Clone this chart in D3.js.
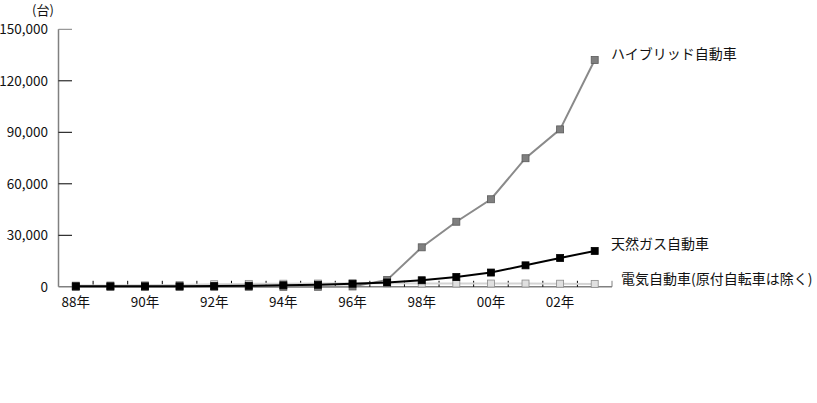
<!DOCTYPE html>
<html>
<head>
<meta charset="utf-8">
<script src="https://cdn.jsdelivr.net/npm/d3@7"></script>
<style>
  body { margin: 0; background: #fff; }
  svg { display: block; font-family: "Noto Sans CJK JP", sans-serif; }
</style>
</head>
<body>
<svg width="817" height="403"></svg>
<script>
// data
var years = ["88","89","90","91","92","93","94","95","96","97","98","99","00","01","02","03"];
var hybrid = [0,0,0,0,0,0,0,0,200,4000,23000,37900,51000,74900,91700,132100];
var natgas = [300,300,300,300,400,600,900,1200,1800,2500,3800,5700,8300,12500,16800,20900];
var electric = [700,800,900,1000,1500,1700,1800,1900,2000,2000,1900,1900,1900,1900,1800,1700];
var yTicks = [0,30000,60000,90000,120000,150000];
var xLabelYears = ["88","90","92","94","96","98","00","02"];
var unitLabel = "(台)";
var names = ["ハイブリッド自動車", "天然ガス自動車", "電気自動車(原付自転車は除く)"];

var svg = d3.select("svg");

var x = d3.scaleBand().domain(years).range([58.5, 612]).padding(0);
var y = d3.scaleLinear().domain([0, 150000]).range([286.8, 29.3]);
var cx = function (d, i) { return x(years[i]) + x.bandwidth() / 2; };

// y axis
svg.append("line")
	.attr("x1", 58.5).attr("x2", 58.5)
	.attr("y1", y(150000)).attr("y2", y(0))
	.style("stroke", "#808080").style("stroke-width", 1.5);

svg.append("g").selectAll("line")
	.data(yTicks.filter(function (d) { return d > 0; }))
	.enter().append("line")
	.attr("x1", 58.5).attr("x2", 72)
	.attr("y1", function (d) { return y(d); })
	.attr("y2", function (d) { return y(d); })
	.style("stroke", function (d) { return d == 150000 ? "#808080" : "#000"; })
	.style("stroke-width", 1);

svg.append("g").selectAll("text")
	.data(yTicks)
	.enter().append("text")
	.attr("x", 48)
	.attr("y", function (d) { return y(d); })
	.attr("dy", "0.35em")
	.attr("text-anchor", "end")
	.style("font-size", "13.5px").style("fill", "#111")
	.text(function (d) { return d3.format(",")(d); });

svg.append("text")
	.attr("x", 43).attr("y", 10).attr("dy", "0.35em")
	.attr("text-anchor", "middle")
	.style("font-size", "13px").style("fill", "#111")
	.text(unitLabel);

// x axis
svg.append("line")
	.attr("x1", 58.5).attr("x2", 612)
	.attr("y1", y(0)).attr("y2", y(0))
	.style("stroke", "#808080").style("stroke-width", 1.5);

svg.append("g").selectAll("line")
	.data(years.slice(1).concat(["end"]))
	.enter().append("line")
	.attr("x1", function (d) { return d == "end" ? 612 : x(d); })
	.attr("x2", function (d) { return d == "end" ? 612 : x(d); })
	.attr("y1", y(0) - 6).attr("y2", y(0))
	.style("stroke", function (d) { return d == "end" ? "#808080" : "#000"; })
	.style("stroke-width", 1);

svg.append("g").selectAll("text")
	.data(xLabelYears)
	.enter().append("text")
	.attr("x", function (d) { return x(d) + x.bandwidth() / 2; })
	.attr("y", 302).attr("dy", "0.35em")
	.attr("text-anchor", "middle")
	.style("font-size", "13.5px").style("fill", "#111")
	.text(function (d) { return d + "年"; });

// series
var series = [
	{ values: electric, line: "#d4d4d4", fill: "#e0e0e0", stroke: "#8a8a8a" },
	{ values: hybrid, line: "#8a8a8a", fill: "#7f7f7f", stroke: "#5a5a5a" },
	{ values: natgas, line: "#000", fill: "#000", stroke: "#000" }
];

var line = d3.line()
	.x(cx)
	.y(function (d) { return y(d); });

series.forEach(function (s) {
	svg.append("path")
		.datum(s.values)
		.attr("d", line)
		.style("fill", "none")
		.style("stroke", s.line)
		.style("stroke-width", 2);

	svg.append("g").selectAll("rect")
		.data(s.values)
		.enter().append("rect")
		.attr("x", function (d, i) { return cx(d, i) - 3.5; })
		.attr("y", function (d) { return y(d) - 3.5; })
		.attr("width", 7).attr("height", 7)
		.style("fill", s.fill)
		.style("stroke", s.stroke)
		.style("stroke-width", 0.8);
});

// series labels
var labelPos = [
	{ x: 611, v: hybrid[15], dy: -6 },
	{ x: 611, v: natgas[15], dy: -7 },
	{ x: 621, v: electric[15], dy: -5 }
];
var labelOrder = [0, 1, 2];
svg.append("g").selectAll("text")
	.data(labelOrder)
	.enter().append("text")
	.attr("x", function (i) { return labelPos[i].x; })
	.attr("y", function (i) { return y(labelPos[i].v) + labelPos[i].dy; })
	.attr("dy", "0.35em")
	.style("font-size", "14px").style("fill", "#111")
	.text(function (i) { return names[i]; });
</script>
</body>
</html>
